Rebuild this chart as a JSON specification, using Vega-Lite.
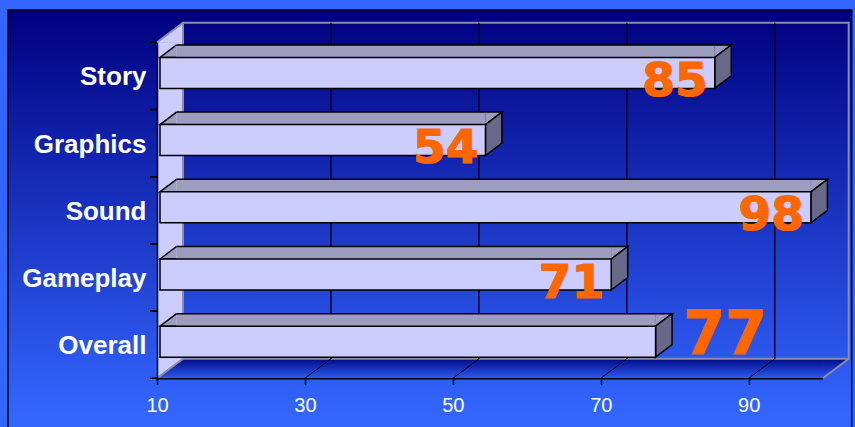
{
  "$schema": "https://vega.github.io/schema/vega-lite/v6.json",
  "width": 665.7,
  "height": 336,
  "padding": {"left": 157, "top": 42.3, "right": 32.3, "bottom": 48.7},
  "autosize": {"type": "none"},
  "background": "#3366ff",
  "config": {"view": {"stroke": null}},
  "datasets": {
    "bars": [
      {"category": "Story", "score": 85},
      {"category": "Graphics", "score": 54},
      {"category": "Sound", "score": 98},
      {"category": "Gameplay", "score": 71},
      {"category": "Overall", "score": 77}
    ],
    "grid": [{"tick": 30}, {"tick": 50}, {"tick": 70}, {"tick": 90}],
    "one": [{"id": 1}]
  },
  "resolve": {"scale": {"y": "independent"}, "axis": {"y": "independent"}},
  "layer": [
    {
      "layer": [
        {
          "data": {"name": "one"},
          "mark": {"type": "rect", "stroke": "#000000", "strokeWidth": 1.5, "xOffset": -149, "x2Offset": 29, "yOffset": -32.3, "y2Offset": 55,
            "fill": {"gradient": "linear", "x1": 0, "y1": 0, "x2": 0, "y2": 1,
              "stops": [{"offset": 0, "color": "#000080"}, {"offset": 0.96, "color": "#3366ff"}, {"offset": 1, "color": "#3366ff"}]}},
          "encoding": {
            "x": {"datum": 10, "type": "quantitative", "scale": {"domain": [10, 100], "nice": false, "zero": false}},
            "x2": {"datum": 100},
            "y": {"datum": 5, "type": "quantitative", "scale": {"domain": [0, 5], "nice": false, "zero": false}, "axis": null},
            "y2": {"datum": 0}
          }
        },
        {
          "data": {"name": "one"},
          "mark": {"type": "rect", "fill": "#ccccff", "x2Offset": 26, "y2Offset": -19.5},
          "encoding": {
            "x": {"datum": 10, "type": "quantitative"},
            "x2": {"datum": 10},
            "y": {"datum": 5, "type": "quantitative", "axis": null},
            "y2": {"datum": 0}
          }
        },
        {
          "data": {"name": "one"},
          "mark": {"type": "point", "shape": "M0,0.5 L26,-19.5 L26,0.5 Z", "size": 4, "filled": true, "fill": "#ccccff", "opacity": 1},
          "encoding": {
            "x": {"datum": 10, "type": "quantitative"},
            "y": {"datum": 5, "type": "quantitative", "axis": null}
          }
        },
        {
          "data": {"name": "one"},
          "mark": {"type": "point", "shape": "M0,-20 L26,-20 L26,-19.5 L0,0 Z", "size": 4, "filled": true, "fill": "#ccccff", "opacity": 1},
          "encoding": {
            "x": {"datum": 10, "type": "quantitative"},
            "y": {"datum": 0, "type": "quantitative", "axis": null}
          }
        },
        {
          "data": {"name": "one"},
          "mark": {"type": "rect", "xOffset": 26, "yOffset": -19.5,
            "fill": {"gradient": "linear", "x1": 0, "y1": 0, "x2": 0, "y2": 1,
              "stops": [{"offset": 0, "color": "#000a88"}, {"offset": 1, "color": "#2d5aee"}]}},
          "encoding": {
            "x": {"datum": 10, "type": "quantitative"},
            "x2": {"datum": 100},
            "y": {"datum": 0, "type": "quantitative", "axis": null},
            "y2": {"datum": 0}
          }
        },
        {
          "data": {"name": "one"},
          "mark": {"type": "point", "shape": "M0,0 L26,-19.5 L26.5,-19.5 L26.5,0 Z", "size": 4, "filled": true, "opacity": 1,
            "fill": {"gradient": "linear", "x1": 0, "y1": 0, "x2": 0, "y2": 1,
              "stops": [{"offset": 0, "color": "#000a88"}, {"offset": 1, "color": "#2d5aee"}]}},
          "encoding": {
            "x": {"datum": 10, "type": "quantitative"},
            "y": {"datum": 0, "type": "quantitative", "axis": null}
          }
        },
        {
          "data": {"name": "one"},
          "mark": {"type": "point", "shape": "M-0.5,0 L0,0 L26,-19.5 L-0.5,-19.5 Z", "size": 4, "filled": true, "opacity": 1,
            "fill": {"gradient": "linear", "x1": 0, "y1": 0, "x2": 0, "y2": 1,
              "stops": [{"offset": 0, "color": "#000a88"}, {"offset": 1, "color": "#2d5aee"}]}},
          "encoding": {
            "x": {"datum": 100, "type": "quantitative"},
            "y": {"datum": 0, "type": "quantitative", "axis": null}
          }
        },
        {
          "data": {"name": "one"},
          "mark": {"type": "rect", "fillOpacity": 0, "stroke": "#8c8ca8", "strokeWidth": 2, "xOffset": 26, "x2Offset": 26, "yOffset": -19.5, "y2Offset": -19.5},
          "encoding": {
            "x": {"datum": 10, "type": "quantitative"},
            "x2": {"datum": 100},
            "y": {"datum": 5, "type": "quantitative", "axis": null},
            "y2": {"datum": 0}
          }
        },
        {
          "data": {"name": "grid"},
          "mark": {"type": "point", "shape": "M26,-19.5 L26,-355.5", "size": 4, "filled": false, "stroke": "#000030", "strokeWidth": 1.5, "opacity": 1},
          "encoding": {
            "x": {"field": "tick", "type": "quantitative"},
            "y": {"datum": 0, "type": "quantitative", "axis": null}
          }
        },
        {
          "data": {"name": "grid"},
          "mark": {"type": "point", "shape": "M0,0 L26,-19.5", "size": 4, "filled": false, "stroke": "#000000", "strokeWidth": 1, "opacity": 1},
          "encoding": {
            "x": {"field": "tick", "type": "quantitative"},
            "y": {"datum": 0, "type": "quantitative", "axis": null}
          }
        },
        {
          "data": {"name": "one"},
          "mark": {"type": "point", "shape": "M0,0 L26,-19.5", "size": 4, "filled": false, "stroke": "#8c8ca8", "strokeWidth": 2, "opacity": 1},
          "encoding": {
            "x": {"datum": 10, "type": "quantitative"},
            "y": {"datum": 5, "type": "quantitative", "axis": null}
          }
        },
        {
          "data": {"name": "one"},
          "mark": {"type": "point", "shape": "M0,0 L26,-19.5", "size": 4, "filled": false, "stroke": "#8c8ca8", "strokeWidth": 2, "opacity": 1},
          "encoding": {
            "x": {"datum": 10, "type": "quantitative"},
            "y": {"datum": 0, "type": "quantitative", "axis": null}
          }
        },
        {
          "data": {"name": "one"},
          "mark": {"type": "point", "shape": "M0,0 L26,-19.5", "size": 4, "filled": false, "stroke": "#8c8ca8", "strokeWidth": 2, "opacity": 1},
          "encoding": {
            "x": {"datum": 100, "type": "quantitative"},
            "y": {"datum": 0, "type": "quantitative", "axis": null}
          }
        }
      ]
    },
    {
      "data": {"name": "bars"},
      "layer": [
        {
          "mark": {"type": "bar", "fill": "#9d9dc0", "height": 12.5, "yOffset": -24.75, "xOffset": 3, "x2Offset": 19.5},
          "encoding": {
            "x": {"field": "score", "type": "quantitative"},
            "x2": {"datum": 10},
            "y": {"field": "category", "type": "nominal", "sort": null, "scale": {"paddingInner": 0, "paddingOuter": 0}}
          }
        },
        {
          "mark": {"type": "point", "shape": "M19.5,-18.5 L3,-18.5 L19.5,-31", "size": 4, "filled": true, "fill": "#9d9dc0", "stroke": "#000000", "strokeWidth": 1.5, "opacity": 1},
          "encoding": {
            "x": {"datum": 10, "type": "quantitative"},
            "y": {"field": "category", "type": "nominal", "sort": null}
          }
        },
        {
          "mark": {"type": "point", "shape": "M3,-31 L19.5,-31 L3,-18.5", "size": 4, "filled": true, "fill": "#9d9dc0", "stroke": "#000000", "strokeWidth": 1.5, "opacity": 1},
          "encoding": {
            "x": {"field": "score", "type": "quantitative"},
            "y": {"field": "category", "type": "nominal", "sort": null}
          }
        },
        {
          "mark": {"type": "bar", "fill": "#000000", "height": 1.5, "yOffset": -31, "xOffset": 3, "x2Offset": 19.5},
          "encoding": {
            "x": {"field": "score", "type": "quantitative"},
            "x2": {"datum": 10},
            "y": {"field": "category", "type": "nominal", "sort": null}
          }
        },
        {
          "mark": {"type": "point", "shape": "M3,-18.5 L19.5,-31 L19.5,0 L3,12.5 Z", "size": 4, "filled": true, "fill": "#686888", "stroke": "#000000", "strokeWidth": 1.5, "opacity": 1},
          "encoding": {
            "x": {"field": "score", "type": "quantitative"},
            "y": {"field": "category", "type": "nominal", "sort": null}
          }
        },
        {
          "mark": {"type": "point", "shape": "M-7,-33.6 L0,-33.6 M-7,33.6 L0,33.6", "size": 4, "filled": false, "stroke": "#000000", "strokeWidth": 1.5, "opacity": 1},
          "encoding": {
            "x": {"datum": 10, "type": "quantitative"},
            "y": {"field": "category", "type": "nominal", "sort": null}
          }
        },
        {
          "mark": {"type": "bar", "fill": "#ccccff", "stroke": "#000000", "strokeWidth": 1.5, "height": 31, "yOffset": -3, "xOffset": 3, "x2Offset": 3},
          "encoding": {
            "x": {
              "field": "score", "type": "quantitative",
              "axis": {
                "orient": "bottom", "values": [10, 30, 50, 70, 90], "title": null, "grid": false, "zindex": 1, "labelFlush": false,
                "domainColor": "#000000", "domainWidth": 1.5, "tickColor": "#000000", "tickWidth": 1.5, "tickSize": 6,
                "labelColor": "#ffffff", "labelFont": "Liberation Sans", "labelFontSize": 20, "labelPadding": 11
              }
            },
            "x2": {"datum": 10},
            "y": {
              "field": "category", "type": "nominal", "sort": null,
              "axis": {
                "orient": "left", "title": null, "grid": false, "zindex": 1,
                "domainColor": "#000000", "domainWidth": 1.5, "tickOpacity": 0, "tickSize": 7,
                "labelColor": "#ffffff", "labelFont": "Liberation Sans", "labelFontWeight": "bold", "labelFontSize": 26, "labelPadding": 4, "labelOffset": 1.5
              }
            }
          }
        },
        {
          "transform": [{"filter": "datum.category !== 'Overall'"}],
          "mark": {"type": "text", "align": "right", "baseline": "alphabetic", "dx": -4, "dy": 20, "font": "DejaVu Sans", "fontWeight": "bold", "fontSize": 47, "fill": "#ff6600", "stroke": "#ff6600", "strokeWidth": 1.2},
          "encoding": {
            "x": {"field": "score", "type": "quantitative"},
            "y": {"field": "category", "type": "nominal", "sort": null},
            "text": {"field": "score", "type": "quantitative"}
          }
        },
        {
          "transform": [{"filter": "datum.category === 'Overall'"}],
          "mark": {"type": "text", "align": "left", "baseline": "alphabetic", "dx": 31, "dy": 9.3, "font": "DejaVu Sans", "fontWeight": "bold", "fontSize": 60, "fill": "#ff6600", "stroke": "#ff6600", "strokeWidth": 1.2},
          "encoding": {
            "x": {"field": "score", "type": "quantitative"},
            "y": {"field": "category", "type": "nominal", "sort": null},
            "text": {"field": "score", "type": "quantitative"}
          }
        }
      ]
    }
  ]
}
